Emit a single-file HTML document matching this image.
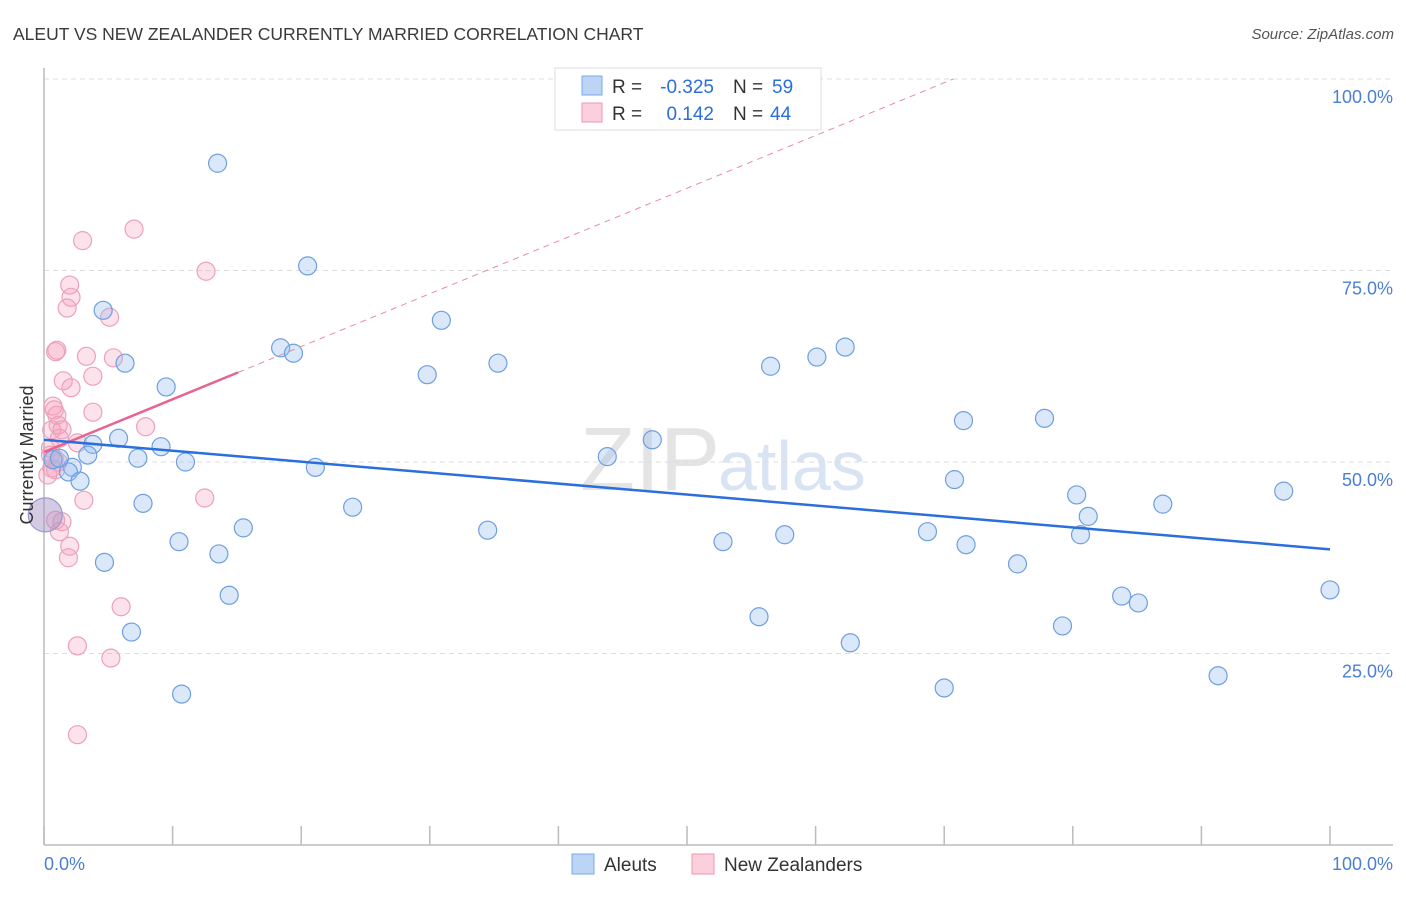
<!DOCTYPE html>
<html><head><meta charset="utf-8"><style>
body{margin:0;background:#fff;font-family:"Liberation Sans",sans-serif}
svg text{font-family:"Liberation Sans",sans-serif}
</style></head><body>
<svg id="c" width="1406" height="892">
<text x="13" y="40" font-size="17.5" fill="#3a3a3a">ALEUT VS NEW ZEALANDER CURRENTLY MARRIED CORRELATION CHART</text>
<text x="1394" y="39" font-size="15" fill="#555" font-style="italic" text-anchor="end">Source: ZipAtlas.com</text>
<text x="720" y="490" font-size="90" fill="#e4e4e4" text-anchor="end" font-family="Liberation Serif">ZIP</text>
<text x="718" y="490" font-size="70" fill="#d8e4f4">atlas</text>
<g id="grid"></g><g id="marks"></g>
<text transform="translate(33,455) rotate(-90)" font-size="18" fill="#333" text-anchor="middle">Currently Married</text>
<g>
<rect x="555" y="68" width="266" height="62" fill="#fff" stroke="#ddd"/>
<rect x="582" y="76" width="20" height="19" fill="#bcd5f5" stroke="#7aa7e6"/>
<rect x="582" y="103" width="20" height="19" fill="#fbcfdc" stroke="#ee9ab4"/>
<text x="612" y="93" font-size="19" fill="#333">R =</text>
<text x="714" y="93" font-size="19" fill="#2a6fdb" text-anchor="end">-0.325</text>
<text x="733" y="93" font-size="19" fill="#333">N =</text>
<text x="772" y="93" font-size="19" fill="#2a6fdb">59</text>
<text x="612" y="120" font-size="19" fill="#333">R =</text>
<text x="714" y="120" font-size="19" fill="#2a6fdb" text-anchor="end">0.142</text>
<text x="733" y="120" font-size="19" fill="#333">N =</text>
<text x="770" y="120" font-size="19" fill="#2a6fdb">44</text>
</g>
<g>
<rect x="572" y="854" width="22" height="20" fill="#bcd5f5" stroke="#7aa7e6"/>
<text x="604" y="871" font-size="19" fill="#333">Aleuts</text>
<rect x="692" y="854" width="22" height="20" fill="#fbcfdc" stroke="#ee9ab4"/>
<text x="724" y="871" font-size="19" fill="#333">New Zealanders</text>
</g>
<text x="44" y="870" font-size="18" fill="#4a7fd4">0.0%</text>
<text x="1393" y="870" font-size="18" fill="#4a7fd4" text-anchor="end">100.0%</text>
</svg>
<script>
const yTicks=[100,75,50,25];
const yTickLabels=["100.0%","75.0%","50.0%","25.0%"];
const xTicks=[0,10,20,30,40,50,60,70,80,90,100];
const aleutX=[13.5,20.5,4.6,30.9,18.4,19.4,6.3,35.3,29.8,9.5,56.5,60.1,62.3,5.8,3.8,9.1,3.4,7.3,11.0,47.3,43.8,71.5,77.8,21.1,2.2,1.9,2.8,70.8,80.3,96.4,7.7,24.0,87.0,81.2,15.5,34.5,10.5,52.8,57.6,68.7,71.7,80.6,13.6,4.7,75.7,14.4,83.8,85.1,100,55.6,79.2,6.8,62.7,10.7,70.0,91.3,0.7,1.2];
const aleutY=[89.0,75.6,69.8,68.5,64.9,64.2,62.9,62.9,61.4,59.8,62.5,63.7,65.0,53.1,52.3,52.0,50.9,50.5,50.0,52.9,50.7,55.4,55.7,49.3,49.3,48.7,47.5,47.7,45.7,46.2,44.6,44.1,44.5,42.9,41.4,41.1,39.6,39.6,40.5,40.9,39.2,40.5,38.0,36.9,36.7,32.6,32.5,31.6,33.3,29.8,28.6,27.8,26.4,19.7,20.5,22.1,50.3,50.5];
const nzX=[3.0,7.0,12.6,2.0,2.1,1.8,5.1,1.0,0.9,3.3,5.4,3.8,1.5,2.1,3.8,7.9,0.7,0.8,1.0,1.1,0.6,1.4,2.6,1.2,0.5,0.8,1.1,0.6,0.3,3.1,12.5,1.4,1.2,2.0,1.9,6.0,2.6,5.2,2.6,0.9,0.5,0.9];
const nzY=[78.9,80.4,74.9,73.1,71.5,70.1,68.9,64.6,64.4,63.8,63.6,61.2,60.6,59.7,56.5,54.6,57.3,56.8,56.1,54.8,54.2,54.2,52.5,53.1,51.8,50.5,50.0,49.2,48.3,45.0,45.3,42.2,40.9,39.0,37.5,31.1,26.0,24.4,14.4,49.0,50.9,42.4];
const bigX=[0.1],bigY=[43.1];
const aleutTrend=[52.9,38.6];
const nzTrend=[51.3,61.7];
const nzTrendEndX=15.1;
const NS="http://www.w3.org/2000/svg";
const sx=v=>44+v*12.86, sy=v=>845-v*7.66;
function mk(t,a,p){const e=document.createElementNS(NS,t);for(const k in a)e.setAttribute(k,a[k]);p.appendChild(e);return e;}
const g=document.getElementById('grid'),m=document.getElementById('marks');
yTicks.forEach((t,i)=>{
 const l=mk('line',{x1:44,x2:1393,y1:sy(t),y2:sy(t),stroke:'#ddd','stroke-dasharray':'5,4'},g);
 
 
 const tx=mk('text',{x:1393,y:sy(t)+24,'font-size':18,fill:'#4a7fd4','text-anchor':'end'},g);tx.textContent=yTickLabels[i];
 
 
});
const ax=mk('line',{x1:44,x2:44,y1:68,y2:845,stroke:'#bbb','stroke-width':1.5},g);


const bx=mk('line',{x1:44,x2:1393,y1:845,y2:845,stroke:'#bbb','stroke-width':1.5},g);


xTicks.forEach(t=>{const l=mk('line',{x1:sx(t),x2:sx(t),y1:826,y2:845,stroke:'#bbb','stroke-width':1.5},g);
 
 });
function pts(X,Y,fill,stroke,name,r){X.forEach((x,i)=>{const c=mk('circle',{cx:sx(x),cy:sy(Y[i]),r:r,fill:fill,stroke:stroke,'stroke-width':1.2},m);
 
 });}
pts(nzX,nzY,'rgba(246,160,188,0.3)','#eea0b9','nz-point',9);
pts(aleutX,aleutY,'rgba(150,190,240,0.35)','#6e9fe0','aleut-point',9);
pts(bigX,bigY,'rgba(170,150,200,0.5)','#9a9ad0','overlap-point',17);
const dx=(100-nzTrend[0])/((nzTrend[1]-nzTrend[0])/nzTrendEndX);
const d=mk('line',{x1:sx(nzTrendEndX),y1:sy(nzTrend[1]),x2:sx(dx),y2:sy(100),stroke:'#e88aa8','stroke-dasharray':'6,5','stroke-width':1},m);


const p=mk('line',{x1:sx(0),y1:sy(nzTrend[0]),x2:sx(nzTrendEndX),y2:sy(nzTrend[1]),stroke:'#e6648f','stroke-width':2.5},m);


const b=mk('line',{x1:sx(0),y1:sy(aleutTrend[0]),x2:sx(100),y2:sy(aleutTrend[1]),stroke:'#2a6fdb','stroke-width':2.5},m);


</script>
</body></html>
